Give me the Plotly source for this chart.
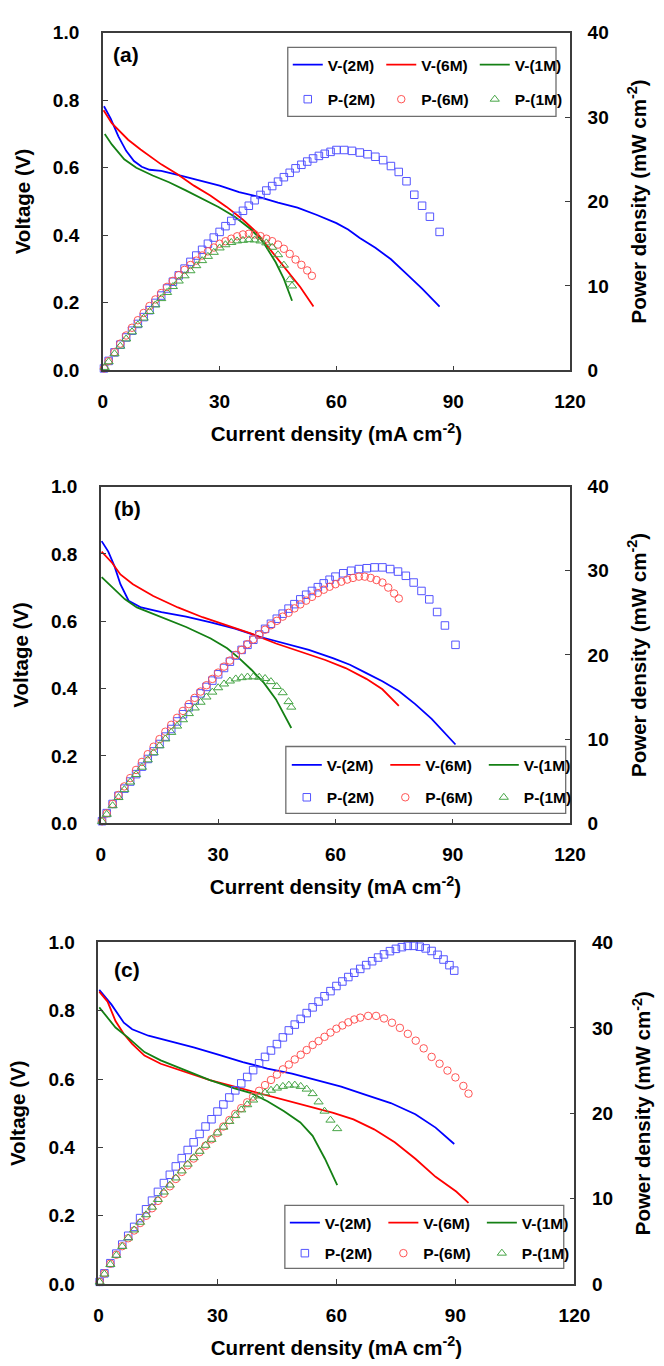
import plotly.graph_objects as go

W, H = 664, 1366

# ---------------- Panel (a) ----------------
a_iv_2m = [0.3, 2, 4, 6, 8, 10, 12, 15, 20, 25, 30, 35, 40, 45, 50, 55, 60, 63, 66, 70, 74, 78, 82, 86.5]
a_v_2m = [0.782, 0.746, 0.693, 0.650, 0.620, 0.603, 0.594, 0.591, 0.577, 0.562, 0.547, 0.528, 0.514,
          0.497, 0.482, 0.460, 0.436, 0.417, 0.392, 0.363, 0.329, 0.286, 0.242, 0.189]
a_iv_6m = [0.2, 2.3, 6.5, 9.7, 15, 19.2, 23.4, 27.6, 31.8, 36, 39.2, 42.3, 46.5, 50.7, 54.1]
a_v_6m = [0.770, 0.732, 0.683, 0.654, 0.610, 0.581, 0.547, 0.518, 0.484, 0.446, 0.412, 0.368, 0.310, 0.247, 0.189]
a_iv_1m = [0.5, 2.3, 5.5, 8.6, 12.8, 17, 21.3, 25.5, 29.7, 33.9, 38.1, 41.3, 44.4, 46.5, 48.6]
a_v_1m = [0.700, 0.669, 0.625, 0.600, 0.577, 0.557, 0.533, 0.509, 0.484, 0.455, 0.417, 0.378, 0.320, 0.271, 0.206]

a_ip_2m = [0.3, 1.5, 3, 4.5, 6, 7.5, 9, 10.5, 12, 13.5, 15, 16.5, 18, 19.5, 21, 22.5, 24, 25.5, 27, 28.5,
           30, 31.5, 33, 34.5, 36, 37.5, 39, 40.5, 42, 43.5, 45, 46.5, 48, 49.5, 51, 52.5, 54, 55.5, 57,
           58.5, 60, 62, 64, 66, 68, 70, 72, 74, 76, 78, 80, 82, 84, 86.5]
a_p_2m = [0.23, 1.12, 2.13, 3.05, 3.90, 4.70, 5.50, 6.31, 7.13, 7.99, 8.86, 9.70, 10.5, 11.25, 12.05,
          12.85, 13.6, 14.28, 15.0, 15.73, 16.4, 17.08, 17.7, 18.3, 18.9, 19.5, 20.15, 20.78, 21.3,
          21.83, 22.35, 22.88, 23.4, 23.93, 24.35, 24.73, 25.1, 25.4, 25.65, 25.88, 26.1, 26.1, 26.0,
          25.8, 25.6, 25.3, 24.9, 24.2, 23.5, 22.4, 20.8, 19.5, 18.2, 16.4]
a_ip_6m = [0.3, 1.5, 3, 4.5, 6, 7.5, 9, 10.5, 12, 13.5, 15, 16.5, 18, 19.5, 21, 22.5, 24, 25.5, 27, 28.5,
           30, 31.5, 33, 34.5, 36, 37.5, 39, 40.5, 42, 43.5, 45, 46.5, 48, 49.5, 51, 52.5, 53.7]
a_p_6m = [0.23, 1.10, 2.16, 3.17, 4.13, 5.05, 5.94, 6.80, 7.62, 8.40, 9.16, 9.89, 10.6, 11.28, 11.9,
          12.48, 13.0, 13.6, 14.1, 14.55, 15.0, 15.3, 15.6, 15.88, 16.1, 16.18, 16.1, 15.9, 15.6, 15.3,
          14.9, 14.4, 13.8, 13.13, 12.5, 11.84, 11.2]
a_ip_1m = [0.5, 1.5, 3, 4.5, 6, 7.5, 9, 10.5, 12, 13.5, 15, 16.5, 18, 19.5, 21, 22.5, 24, 25.5, 27, 28.5,
           30, 31.5, 33, 34.5, 36, 37.5, 39, 40.5, 42, 43.5, 45, 46.5, 48, 48.6]
a_p_1m = [0.35, 1.02, 1.97, 2.87, 3.73, 4.56, 5.38, 6.19, 6.98, 7.75, 8.50, 9.23, 9.93, 10.58, 11.2,
          11.8, 12.4, 13.0, 13.5, 13.98, 14.5, 14.88, 15.15, 15.33, 15.4, 15.48, 15.45, 15.33, 15.1,
          14.58, 13.7, 12.46, 10.74, 10.0]

# ---------------- Panel (b) ----------------
b_iv_2m = [0.2, 1.9, 3.5, 5, 7.1, 10.3, 15.5, 21.8, 28.1, 34.3, 40.6, 46.9, 53.2, 59.5, 63.7, 67.9,
           72, 76.2, 80.4, 84.6, 87.7, 90.7]
b_v_2m = [0.838, 0.807, 0.763, 0.710, 0.661, 0.641, 0.627, 0.614, 0.597, 0.578, 0.554, 0.534, 0.515,
          0.490, 0.471, 0.446, 0.422, 0.393, 0.354, 0.310, 0.271, 0.234]
b_iv_6m = [0.2, 2.9, 5, 8.2, 13.4, 19.7, 26, 32.3, 38.5, 44.8, 51.1, 57.4, 62.6, 67.9, 72, 76.2]
b_v_6m = [0.807, 0.773, 0.739, 0.710, 0.675, 0.641, 0.612, 0.588, 0.563, 0.534, 0.510, 0.485, 0.461,
          0.429, 0.398, 0.349]
b_iv_1m = [0.2, 2.9, 6.1, 9.2, 15.5, 21.8, 28.1, 32.3, 35.4, 38.5, 41.7, 44.8, 48.7]
b_v_1m = [0.731, 0.700, 0.666, 0.641, 0.612, 0.583, 0.549, 0.520, 0.490, 0.456, 0.417, 0.368, 0.283]

b_ip_2m = [0.3, 1.5, 3, 4.5, 6, 7.5, 9, 10.5, 12, 13.5, 15, 16.5, 18, 19.5, 21, 22.5, 24, 25.5, 27, 28.5,
           30, 31.5, 33, 34.5, 36, 37.5, 39, 40.5, 42, 43.5, 45, 46.5, 48, 49.5, 51, 52.5, 54, 55.5, 57,
           58.5, 60, 62, 64, 66, 68, 70, 72, 74, 76, 78, 80, 82, 84, 86, 88, 90.7]
b_p_2m = [0.25, 1.21, 2.30, 3.27, 4.12, 4.96, 5.84, 6.73, 7.64, 8.54, 9.42, 10.3, 11.2, 12.1, 12.95,
          13.78, 14.6, 15.43, 16.2, 16.95, 17.7, 18.45, 19.2, 19.93, 20.6, 21.2, 21.8, 22.43, 23.1,
          23.7, 24.3, 24.9, 25.5, 26.03, 26.6, 27.15, 27.6, 28.05, 28.5, 28.93, 29.3, 29.7, 30.0,
          30.2, 30.3, 30.4, 30.4, 30.2, 29.9, 29.4, 28.6, 27.6, 26.6, 25.1, 23.5, 21.2]
b_ip_6m = [0.3, 1.5, 3, 4.5, 6, 7.5, 9, 10.5, 12, 13.5, 15, 16.5, 18, 19.5, 21, 22.5, 24, 25.5, 27, 28.5,
           30, 31.5, 33, 34.5, 36, 37.5, 39, 40.5, 42, 43.5, 45, 46.5, 48, 49.5, 51, 52.5, 54, 55.5, 57,
           58.5, 60, 61.5, 63, 64.5, 66, 67.5, 69, 70.5, 72, 73.5, 75, 76.2]
b_p_6m = [0.24, 1.18, 2.30, 3.36, 4.38, 5.37, 6.34, 7.29, 8.21, 9.10, 10.0, 10.88, 11.7, 12.53, 13.35,
          14.15, 14.9, 15.65, 16.4, 17.15, 17.9, 18.61, 19.33, 20.0, 20.6, 21.28, 21.85, 22.4, 23.0,
          23.53, 24.05, 24.55, 25.0, 25.53, 26.0, 26.45, 26.9, 27.35, 27.75, 28.1, 28.4, 28.7, 28.95,
          29.15, 29.3, 29.3, 29.15, 28.9, 28.6, 28.0, 27.3, 26.7]
b_ip_1m = [0.3, 1.5, 3, 4.5, 6, 7.5, 9, 10.5, 12, 13.5, 15, 16.5, 18, 19.5, 21, 22.5, 24, 25.5, 27, 28.5,
           30, 31.5, 33, 34.5, 36, 37.5, 39, 40.5, 42, 43.5, 45, 46.5, 48, 48.7]
b_p_1m = [0.22, 1.07, 2.09, 3.06, 4.00, 4.90, 5.79, 6.66, 7.54, 8.38, 9.21, 10.02, 10.8, 11.55, 12.3,
          13.03, 13.7, 14.38, 15.0, 15.58, 16.1, 16.55, 16.9, 17.15, 17.3, 17.38, 17.4, 17.35, 17.2,
          16.83, 16.25, 15.51, 14.45, 13.8]

# ---------------- Panel (c) ----------------
c_iv_2m = [0.2, 3.3, 6.4, 8.5, 12.6, 17.8, 24, 30.2, 36.4, 42.6, 48.8, 55, 61.2, 67.4, 73.7, 79.9, 85, 89.7]
c_v_2m = [0.861, 0.818, 0.765, 0.746, 0.727, 0.712, 0.693, 0.672, 0.650, 0.631, 0.616, 0.597, 0.578,
          0.554, 0.530, 0.497, 0.458, 0.410]
c_iv_6m = [0.2, 2.3, 4.3, 6.4, 8.5, 11.6, 15.7, 21.9, 28.1, 34.3, 40.6, 46.8, 53, 59.2, 64.3, 69.5,
           74.7, 79.9, 85, 90.2, 93.3]
c_v_6m = [0.856, 0.827, 0.770, 0.732, 0.703, 0.669, 0.645, 0.621, 0.597, 0.578, 0.559, 0.540, 0.521,
          0.501, 0.482, 0.453, 0.415, 0.367, 0.314, 0.271, 0.238]
c_iv_1m = [0.2, 2.3, 4.3, 7.4, 11.6, 15.7, 21.9, 28.1, 34.3, 38.5, 42.6, 46.8, 50.9, 54, 57.1, 60.2]
c_v_1m = [0.810, 0.780, 0.751, 0.722, 0.679, 0.655, 0.626, 0.597, 0.573, 0.559, 0.535, 0.506, 0.473,
          0.434, 0.367, 0.290]

c_ip_2m = [0.3, 1.5, 3, 4.5, 6, 7.5, 9, 10.5, 12, 13.5, 15, 16.5, 18, 19.5, 21, 22.5, 24, 25.5, 27, 28.5,
           30, 31.5, 33, 34.5, 36, 37.5, 39, 40.5, 42, 43.5, 45, 46.5, 48, 49.5, 51, 52.5, 54, 55.5, 57,
           58.5, 60, 61.5, 63, 64.5, 66, 67.5, 69, 70.5, 72, 73.5, 75, 76.5, 78, 79.5, 81, 82.5, 84,
           85.5, 87, 88.5, 89.7]
c_p_2m = [0.26, 1.26, 2.45, 3.57, 4.63, 5.66, 6.70, 7.73, 8.76, 9.77, 10.8, 11.83, 12.8, 13.78, 14.75,
          15.7, 16.6, 17.58, 18.45, 19.3, 20.2, 21.03, 21.85, 22.68, 23.5, 24.25, 25.05, 25.85, 26.6,
          27.35, 28.1, 28.88, 29.7, 30.38, 31.05, 31.73, 32.4, 33.08, 33.7, 34.3, 34.9, 35.43, 35.95,
          36.45, 36.9, 37.35, 37.8, 38.23, 38.6, 38.98, 39.25, 39.45, 39.6, 39.6, 39.5, 39.3, 39.0,
          38.55, 38.0, 37.34, 36.7]
c_ip_6m = [0.3, 1.5, 3, 4.5, 6, 7.5, 9, 10.5, 12, 13.5, 15, 16.5, 18, 19.5, 21, 22.5, 24, 25.5, 27, 28.5,
           30, 31.5, 33, 34.5, 36, 37.5, 39, 40.5, 42, 43.5, 45, 46.5, 48, 49.5, 51, 52.5, 54, 55.5, 57,
           58.5, 60, 61.5, 63, 64.5, 66, 68, 70, 72, 74, 76, 78, 80, 82, 84, 86, 88, 90, 92, 93.3]
c_p_6m = [0.26, 1.25, 2.39, 3.44, 4.44, 5.37, 6.28, 7.15, 8.00, 8.88, 9.74, 10.59, 11.45, 12.31, 13.13,
          13.91, 14.7, 15.45, 16.2, 16.95, 17.7, 18.45, 19.2, 19.93, 20.6, 21.28, 21.95, 22.63, 23.3,
          23.9, 24.53, 25.14, 25.7, 26.3, 26.85, 27.4, 28.0, 28.45, 28.95, 29.45, 29.9, 30.28, 30.65,
          30.98, 31.2, 31.4, 31.4, 31.1, 30.6, 30.0, 29.3, 28.5, 27.6, 26.6, 25.8, 25.0, 24.2, 23.2, 22.3]
c_ip_1m = [0.3, 1.5, 3, 4.5, 6, 7.5, 9, 10.5, 12, 13.5, 15, 16.5, 18, 19.5, 21, 22.5, 24, 25.5, 27, 28.5,
           30, 31.5, 33, 34.5, 36, 37.5, 39, 40.5, 42, 43.5, 45, 46.5, 48, 49.5, 51, 52.5, 54, 55.5, 57,
           58.5, 60.2]
c_p_1m = [0.24, 1.18, 2.30, 3.37, 4.41, 5.40, 6.34, 7.24, 8.12, 9.01, 9.91, 10.78, 11.6, 12.43, 13.25,
          14.05, 14.8, 15.55, 16.25, 16.95, 17.7, 18.38, 19.05, 19.73, 20.4, 21.0, 21.55, 22.03, 22.4,
          22.7, 22.95, 23.15, 23.3, 23.3, 23.15, 22.83, 22.3, 21.33, 20.25, 19.2, 18.2]

# axis ticks
x_ticks = [0, 30, 60, 90, 120]
v_ticks = [0.0, 0.2, 0.4, 0.6, 0.8, 1.0]
p_ticks = [0, 10, 20, 30, 40]
series_names = ["2M", "6M", "1M"]
panel_labels = ["(a)", "(b)", "(c)"]

# ---------------- styling ----------------
FONT = "Liberation Sans"
LINE_COLORS = {"2M": "rgb(0,0,255)", "6M": "rgb(255,0,0)", "1M": "rgb(20,128,20)"}
MARK_COLORS = {"2M": "rgb(85,85,255)", "6M": "rgb(255,85,85)", "1M": "rgb(70,165,70)"}
SYMBOLS = {"2M": "square-open", "6M": "circle-open", "1M": "triangle-up-open"}
MARK_SIZES = {"2M": 7.5, "6M": 7.5, "1M": 8}
FRAME = "#3c3c3c"

# pixel boxes of the three plot frames: (left, right, top, bottom)
frames = [(101, 583.5, 23, 366), (99, 583.5, 484, 826), (96.5, 588, 947, 1294)]
# legend boxes (left, right, top, bottom), row centres, entry pitch
legend_boxes = [(292, 569, 38, 108), (290, 579, 748, 816), (289, 577, 1214, 1278)]
legend_rows = [(56, 91), (767, 800), (1232, 1263)]
legend_x0 = [292, 291, 289]
legend_pitch = [91.5, 96.5, 96.5]
label_pos = [(125, 45), (126, 506), (126, 974)]

panels = [
    (a_iv_2m, a_v_2m, a_iv_6m, a_v_6m, a_iv_1m, a_v_1m,
     a_ip_2m, a_p_2m, a_ip_6m, a_p_6m, a_ip_1m, a_p_1m),
    (b_iv_2m, b_v_2m, b_iv_6m, b_v_6m, b_iv_1m, b_v_1m,
     b_ip_2m, b_p_2m, b_ip_6m, b_p_6m, b_ip_1m, b_p_1m),
    (c_iv_2m, c_v_2m, c_iv_6m, c_v_6m, c_iv_1m, c_v_1m,
     c_ip_2m, c_p_2m, c_ip_6m, c_p_6m, c_ip_1m, c_p_1m),
]


def px_x(v):
    return v / W


def px_y(v):
    return 1 - v / H


fig = go.Figure()
layout = dict(
    width=W, height=H,
    margin=dict(l=0, r=0, t=0, b=0),
    paper_bgcolor="white", plot_bgcolor="white",
    font=dict(family=FONT, size=18, color="black", weight="bold"),
    showlegend=True,
    shapes=[], annotations=[],
)

for k, data in enumerate(panels):
    (iv2, v2, iv6, v6, iv1, v1, ip2, p2, ip6, p6, ip1, p1) = data
    xs = "" if k == 0 else str(k + 1)
    xa = "x" + xs
    ya = "y" + ("" if k == 0 else str(2 * k + 1))
    yb = "y" + str(2 * k + 2)
    leg_v = "legend" + ("" if k == 0 else str(2 * k + 1))
    leg_p = "legend" + str(2 * k + 2)

    volt = {"2M": (iv2, v2), "6M": (iv6, v6), "1M": (iv1, v1)}
    power = {"2M": (ip2, p2), "6M": (ip6, p6), "1M": (ip1, p1)}

    for s in series_names:
        fig.add_trace(go.Scatter(
            x=volt[s][0], y=volt[s][1], mode="lines", name=f"V-({s})",
            line=dict(color=LINE_COLORS[s], width=1.8),
            xaxis=xa, yaxis=ya, legend=leg_v,
        ))
    for s in series_names:
        fig.add_trace(go.Scatter(
            x=power[s][0], y=power[s][1], mode="markers", name=f"P-({s})",
            marker=dict(symbol=SYMBOLS[s], size=MARK_SIZES[s], color=MARK_COLORS[s],
                        line=dict(width=1, color=MARK_COLORS[s])),
            cliponaxis=False,
            xaxis=xa, yaxis=yb, legend=leg_p,
        ))

    l, r, t, b = frames[k]
    axis_common = dict(
        showgrid=False, zeroline=False, showline=True, linecolor=FRAME, linewidth=1.5,
        ticks="inside", ticklen=5, tickwidth=1.3, tickcolor=FRAME,
        tickfont=dict(size=19), fixedrange=True,
    )
    layout["xaxis" + xs] = dict(
        axis_common, domain=[px_x(l), px_x(r)], anchor=ya, range=[0, 120],
        tickvals=x_ticks, mirror=True, ticklabelstandoff=13,
        title=dict(text="Current density (mA cm<sup>-2</sup>)", font=dict(size=20.5), standoff=16),
    )
    layout["yaxis" + ya[1:]] = dict(
        axis_common, domain=[px_y(b), px_y(t)], anchor=xa, range=[0, 1],
        tickvals=v_ticks, tickformat=".1f", ticklabelstandoff=18,
        title=dict(text="Voltage (V)", font=dict(size=20.5), standoff=17),
    )
    layout["yaxis" + yb[1:]] = dict(
        axis_common, domain=[px_y(b), px_y(t)], anchor=xa, overlaying=ya, side="right",
        range=[0, 40], tickvals=p_ticks, ticklabelstandoff=12,
        title=dict(text="Power density (mW cm<sup>-2</sup>)", font=dict(size=20.5), standoff=24),
    )

    # legend frame
    bl, br, bt, bb = legend_boxes[k]
    layout["shapes"].append(dict(
        type="rect", xref="paper", yref="paper",
        x0=px_x(bl), x1=px_x(br), y0=px_y(bb), y1=px_y(bt),
        line=dict(color="#6e6e6e", width=1.3), fillcolor="white", layer="above",
    ))
    for leg, row in ((leg_v, legend_rows[k][0]), (leg_p, legend_rows[k][1])):
        layout[leg] = dict(
            orientation="h", x=px_x(legend_x0[k]), xanchor="left",
            y=px_y(row), yanchor="middle",
            bgcolor="rgba(0,0,0,0)", borderwidth=0,
            entrywidth=legend_pitch[k] - 43, entrywidthmode="pixels",
            font=dict(size=15.5), itemclick=False, itemdoubleclick=False,
        )

    lx, ly = label_pos[k]
    layout["annotations"].append(dict(
        text=panel_labels[k], xref="paper", yref="paper", x=px_x(lx), y=px_y(ly),
        xanchor="center", yanchor="middle", showarrow=False, font=dict(size=21),
    ))

fig.update_layout(**layout)
fig.write_html("out.html")
